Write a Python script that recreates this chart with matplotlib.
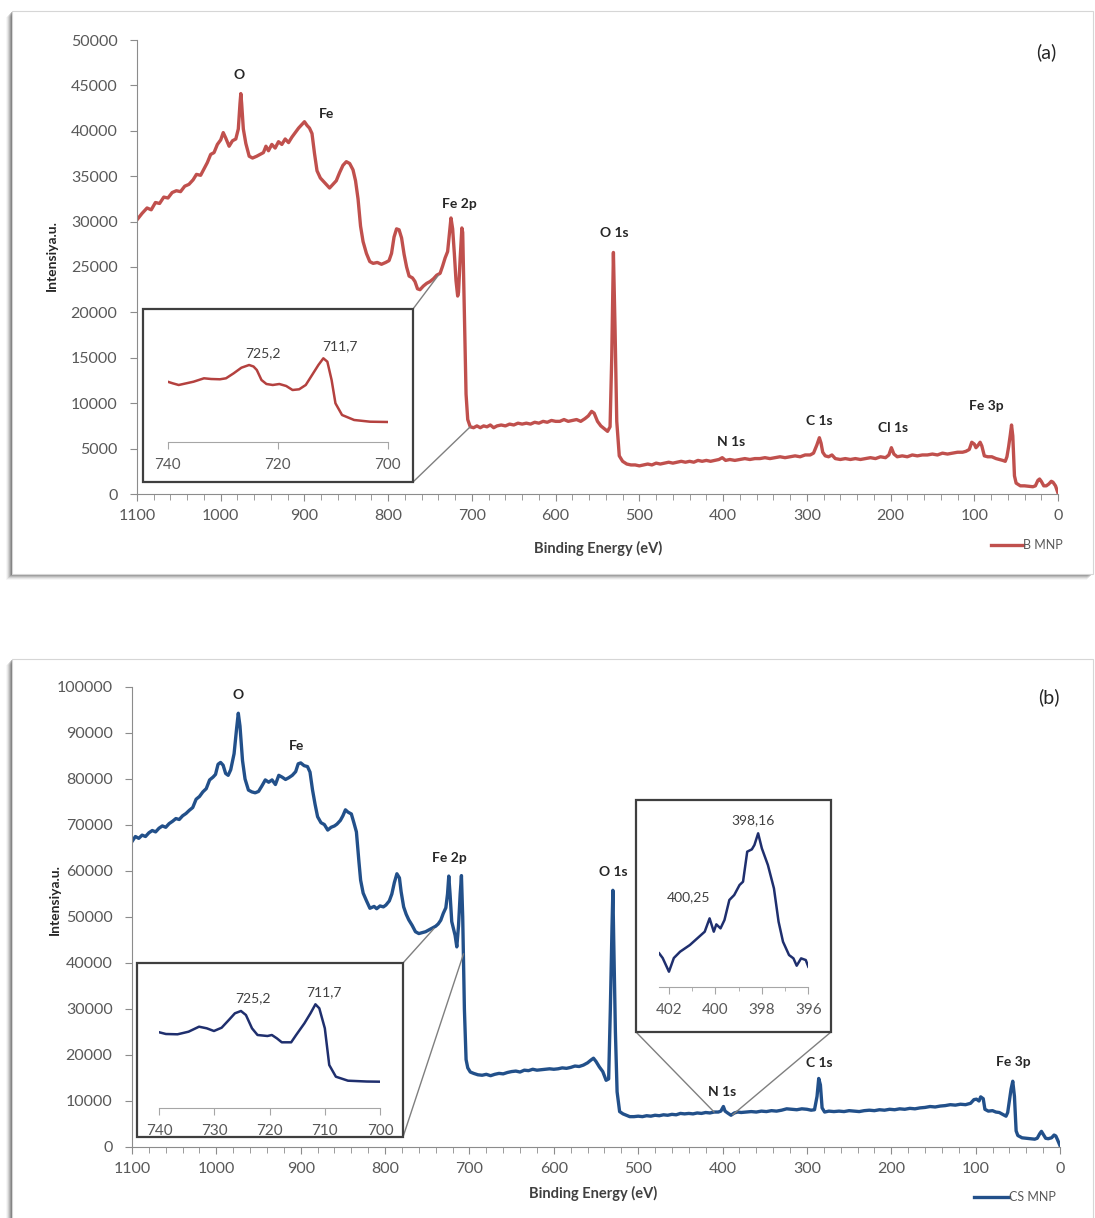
import numpy as np
import matplotlib.pyplot as plt
from matplotlib.patches import Rectangle, ConnectionPatch

W, H = 1095, 1218
plt.rcParams['font.family'] = ['Lato', 'DejaVu Sans']

# survey spectrum, B MNP
be_a = [1100, 1094, 1088, 1083, 1078, 1073, 1068, 1063, 1058, 1053, 1048, 1043, 1038, 1033,
        1029, 1024, 1020, 1016, 1012, 1008, 1004, 1000, 997, 994, 990, 986, 982, 979, 977,
        976, 975, 973, 970, 966, 962, 957, 953, 949, 946, 943, 939, 935, 931, 927, 923, 919,
        915, 911, 907, 903, 900, 897, 894, 891, 888, 885, 881, 877, 873, 870, 866, 862, 858,
        854, 850, 846, 842, 839, 836, 833, 830, 826, 822, 818, 813, 808, 803, 799, 796, 793,
        790, 787, 784, 781, 778, 775, 771, 768, 765, 762, 758, 754, 750, 746, 742, 738, 735,
        732, 729, 727, 725, 723, 721, 719, 717, 716, 714, 712, 711, 709, 707, 705, 702, 698,
        694, 690, 686, 682, 678, 674, 670, 665, 660, 655, 650, 645, 640, 635, 630, 625, 620,
        615, 610, 605, 600, 595, 590, 585, 580, 575, 570, 565, 561, 557, 554, 550, 546, 542,
        538, 535, 533, 531, 529, 527, 524, 520, 515, 510, 505, 500, 495, 490, 485, 480, 475,
        470, 465, 460, 455, 450, 445, 440, 435, 430, 425, 420, 415, 410, 405, 401, 397, 392,
        386, 380, 374, 368, 362, 356, 350, 344, 338, 332, 326, 320, 314, 308, 302, 296, 292,
        288, 285, 283, 281, 278, 274, 270, 266, 260, 254, 248, 242, 236, 230, 224, 218, 212,
        206, 202, 199, 196, 192, 186, 180, 174, 168, 162, 156, 150, 144, 138, 132, 126, 120,
        114, 110, 106, 103, 100, 98, 96, 93, 91, 88, 84, 79, 74, 70, 66, 63, 61, 59, 57, 55.5,
        54, 52, 50, 45, 40, 35, 30, 27, 24, 22, 20, 17, 14, 11, 8, 6, 3, 0]
cnt_a = [30200, 30900, 31500, 31300, 32100, 32000, 32700, 32600, 33200, 33400, 33300, 33900,
         34100, 34600, 35200, 35100, 35800, 36500, 37400, 37600, 38500, 39000, 39800, 39200,
         38300, 38900, 39100, 40200, 43000, 44100, 43000, 40200, 38600, 37200, 37000, 37200,
         37400, 37600, 38300, 37800, 38500, 38100, 38800, 38500, 39100, 38700, 39300, 39800,
         40300, 40700, 41000, 40600, 40300, 39700, 37500, 35600, 34800, 34400, 34000, 33700,
         34100, 34500, 35400, 36200, 36600, 36400, 35700, 34500, 32500, 29500, 27800, 26500,
         25600, 25400, 25500, 25300, 25500, 25700, 26500, 28300, 29200, 29100, 28200, 26400,
         25000, 24000, 23800, 23400, 22600, 22500, 22900, 23200, 23400, 23700, 24100, 24300,
         25100, 26000, 26700, 28500, 30400, 29200, 26500, 23500, 21800, 22200, 26000, 29300,
         28800, 20000, 11000, 8200, 7400, 7300, 7500, 7300, 7500, 7400, 7600, 7300, 7500, 7600,
         7500, 7700, 7600, 7800, 7700, 7800, 7700, 7900, 7800, 8000, 7900, 8100, 8000, 8000,
         8200, 8000, 8100, 8200, 8000, 8300, 8600, 9100, 8900, 8000, 7500, 7200, 6900, 7400,
         15000, 26600, 18000, 8000, 4200, 3600, 3300, 3200, 3200, 3100, 3200, 3300, 3200, 3400,
         3300, 3400, 3500, 3400, 3500, 3600, 3500, 3600, 3500, 3700, 3600, 3700, 3600, 3700,
         3800, 4000, 3700, 3800, 3700, 3800, 3900, 3800, 3900, 3900, 4000, 3900, 4000, 4100,
         4000, 4100, 4200, 4100, 4300, 4300, 4500, 5400, 6200, 5600, 4600, 4200, 4100, 4300,
         3900, 3800, 3900, 3800, 3900, 3800, 3900, 4000, 3900, 4100, 4000, 4300, 5100, 4400,
         4100, 4200, 4100, 4300, 4200, 4300, 4300, 4400, 4300, 4500, 4400, 4500, 4600, 4600,
         4700, 4900, 5700, 5500, 5100, 5300, 5700, 5300, 4200, 4100, 4100, 3900, 3800, 3700,
         3600, 4100, 5200, 6500, 7600, 6400, 2000, 1200, 900, 900, 850, 800, 900, 1500, 1650,
         1400, 900, 900, 1100, 1400, 1300, 900, 100]

# survey spectrum, CS MNP
be_b = [1100, 1096, 1092, 1088, 1084, 1080, 1076, 1072, 1068, 1064, 1060, 1056, 1052, 1048,
        1044, 1040, 1036, 1032, 1028, 1024, 1020, 1016, 1012, 1008, 1004, 1001, 998, 995, 992,
        989, 986, 983, 979, 976, 974, 972, 969, 966, 962, 958, 954, 950, 946, 942, 938, 934,
        930, 926, 922, 918, 914, 910, 906, 903, 900, 896, 892, 889, 886, 883, 880, 876, 872,
        868, 864, 860, 857, 853, 850, 847, 844, 840, 837, 834, 831, 829, 826, 822, 818, 813,
        810, 806, 802, 799, 795, 792, 789, 786, 783, 781, 778, 775, 772, 768, 764, 760, 756,
        752, 748, 744, 740, 737, 734, 731, 728, 726, 724.5, 723, 721, 719, 717, 715, 713, 711,
        709.5, 708, 706, 704, 702, 699, 695, 690, 685, 680, 675, 670, 665, 660, 655, 650, 645,
        640, 635, 630, 625, 620, 615, 610, 605, 600, 595, 590, 585, 580, 575, 570, 565, 560,
        556, 553, 550, 546, 542, 538, 535, 533, 531, 530, 529, 527, 525, 522, 518, 514, 510,
        505, 500, 495, 490, 485, 480, 475, 470, 465, 460, 455, 450, 445, 440, 435, 430, 425,
        420, 415, 410, 405, 402, 399, 397, 394, 390, 386, 382, 378, 372, 366, 360, 354, 348,
        342, 336, 330, 324, 318, 312, 306, 300, 295, 291, 288, 286, 284, 282, 279, 274, 268,
        262, 256, 250, 244, 238, 232, 226, 220, 214, 208, 202, 196, 190, 184, 178, 172, 166,
        160, 154, 148, 142, 136, 130, 124, 118, 112, 106, 102, 99, 96, 94, 91, 89, 85, 80, 76,
        72, 68, 64, 62, 60, 58, 56, 54, 52, 50, 45, 40, 35, 30, 27, 24, 22, 20, 17, 14, 10, 7,
        5, 3, 0]
cnt_b = [66400, 67500, 67100, 67800, 67500, 68300, 68800, 68500, 69300, 69800, 69500, 70300,
         70800, 71400, 71200, 72000, 72500, 73200, 73800, 75600, 76200, 77200, 77900, 79800,
         80400, 81000, 83200, 83600, 83000, 81200, 80800, 82000, 85500, 91000, 94300, 91500,
         84000, 80000, 77600, 77200, 77000, 77300, 78500, 79800, 79300, 79800, 78800, 80800,
         80400, 79900, 80300, 80800, 81600, 83300, 83500, 82900, 82700, 81500, 77600, 74500,
         71800, 70500, 70100, 68900, 69500, 69800, 70200, 71000, 72000, 73300, 72800, 72400,
         70500, 68500, 62000, 58000, 55200, 53500, 51900, 52300, 51800, 52400, 52200, 52600,
         53500, 55000, 57500, 59400, 58500, 55500, 52200, 50600, 49400, 48200, 46800, 46400,
         46600, 46800, 47200, 47600, 48000, 48500, 49300, 50800, 52000, 55000, 58900, 55000,
         49000, 47500, 46000, 43500, 48000, 55000, 59000, 50000, 30000, 19000, 17200, 16300,
         16000, 15700, 15600, 15800, 15500, 15800, 16000, 15900, 16200, 16400, 16500, 16300,
         16700, 16600, 16900, 16700, 16800, 16900, 17000, 16900, 17000, 17200, 17100, 17300,
         17600, 17500, 17800, 18300, 18900, 19300, 18600, 17400, 16400, 14500, 14800, 30000,
         48000, 55800, 45000, 25000, 12000, 7700, 7200, 6900, 6600, 6600, 6700, 6600, 6800,
         6700, 6900, 6800, 7000, 6900, 7100, 7000, 7300, 7200, 7300, 7200, 7400, 7300, 7500,
         7400, 7600, 7600, 7800, 8800, 7800, 7400, 6900, 7400, 7600, 7500, 7600, 7700, 7600,
         7800, 7700, 7900, 7800, 8000, 8300, 8200, 8100, 8300, 8200, 8000, 8100, 11000, 14900,
         13500, 8500, 7600, 7800, 7700, 7800, 7700, 7900, 7800, 7700, 7900, 8000, 7900, 8100,
         8000, 8200, 8100, 8300, 8200, 8400, 8300, 8500, 8600, 8800, 8700, 8900, 9000, 9200,
         9100, 9300, 9200, 9500, 10300, 10400, 10000, 10900, 10500, 8200, 7800, 7900, 7600,
         7500, 7100, 6700, 7500, 10000, 12600, 14300, 11000, 3500, 2500, 2000, 1900, 1800,
         1700, 1900, 2900, 3400, 2800, 1900, 1800, 2000, 2600, 2400, 1600, 300]

# Fe 2p detail scans
fe2p_be_a = [740, 739.1, 738.0, 736.6, 735.3, 733.4, 732.1, 730.5, 729.4, 728.0, 726.6, 725.2,
             724.4, 723.8, 722.95, 722.05, 720.9, 719.7, 718.45, 717.3, 716.1, 714.9, 713.75,
             712.6, 711.7, 710.97, 710.2, 709.5, 708.3, 706.1, 703.2, 700]
fe2p_cnt_a = [21000, 20460, 19880, 20460, 21000, 22160, 21920, 21820, 22160, 23860, 25760,
              26680, 26170, 24980, 21580, 20220, 19880, 20220, 19540, 18180, 18420, 19880,
              23280, 26680, 28960, 27800, 21580, 13660, 9680, 7980, 7400, 7300]
fe2p_be_b = [740, 738.8, 736.7, 734.7, 732.8, 731.4, 730.1, 728.7, 727.4, 726.3, 725.2, 724.3,
             723.2, 722.2, 720.4, 719.6, 718.7, 717.8, 716.1, 715.2, 713.7, 712.6, 711.7, 711.0,
             710.0, 709.2, 708.0, 705.8, 702.4, 700]
fe2p_cnt_b = [41860, 40910, 40740, 42200, 45000, 44100, 42590, 44440, 48750, 52500, 53790,
              51550, 44100, 40350, 39790, 40350, 38500, 36260, 36260, 40350, 46900, 52500,
              57540, 55300, 44100, 23550, 17000, 14760, 14300, 14200]
fe2p_peaks = [725.2, 711.7]

# N 1s detail scan, CS MNP
n1s_be = [402.42, 402.27, 402.0, 401.79, 401.52, 401.10, 400.78, 400.46, 400.25, 400.07,
          399.96, 399.78, 399.61, 399.40, 399.19, 398.96, 398.81, 398.63, 398.43, 398.32,
          398.16, 398.0, 397.74, 397.48, 397.28, 397.09, 396.83, 396.64, 396.50, 396.31,
          396.11, 396.0]
n1s_cnt = [7200, 7130, 6925, 7130, 7225, 7325, 7425, 7525, 7725, 7525, 7635, 7575, 7700, 8000,
           8075, 8225, 8275, 8725, 8760, 8825, 9000, 8775, 8525, 8175, 7675, 7375, 7175, 7125,
           7015, 7125, 7100, 7000]
n1s_peaks = [400.25, 398.16]

labels_a = ['O', 'Fe', 'Fe 2p', 'O 1s', 'N 1s', 'C 1s', 'Cl 1s', 'Fe 3p']
labels_b = ['O', 'Fe', 'Fe 2p', 'O 1s', 'N 1s', 'C 1s', 'Fe 3p']

RED = '#c0504d'
BLUE = '#22508a'
NAVY = '#1f2f6e'
GREY = '#8c8c8c'
TXT = '#595959'


def rect(x0, y0, x1, y1):
    # pixel box (top-left origin) -> figure fraction [l, b, w, h]
    return [x0 / W, 1 - y1 / H, (x1 - x0) / W, (y1 - y0) / H]


def fpt(x, y):
    return (x / W, 1 - y / H)


fig = plt.figure(figsize=(W / 100, H / 100), dpi=100)


def panel_frame(x0, y0, x1, y1):
    # soft drop shadow to the lower left, then the white card
    for k, a in zip([6, 5, 4, 3, 2, 1], [0.05, 0.09, 0.14, 0.2, 0.28, 0.4]):
        fig.add_artist(Rectangle(fpt(x0 - k, y1 + k), (x1 - x0) / W, (y1 - y0) / H,
                                 transform=fig.transFigure, facecolor='#555555', alpha=a,
                                 edgecolor='none', zorder=-3))
    fig.add_artist(Rectangle(fpt(x0, y1), (x1 - x0) / W, (y1 - y0) / H,
                             transform=fig.transFigure, facecolor='white',
                             edgecolor='#d6d6d6', lw=0.8, zorder=-2))


def style_main(ax, ymax, ystep):
    ax.set_xlim(1100, 0)
    ax.set_ylim(0, ymax)
    ax.set_xticks(np.arange(0, 1101, 100))
    ax.set_xticks(np.arange(0, 1101, 20), minor=True)
    ax.set_yticks(np.arange(0, ymax + 1, ystep))
    for s in ['top', 'right']:
        ax.spines[s].set_visible(False)
    for s in ['left', 'bottom']:
        ax.spines[s].set_color(GREY)
    ax.tick_params(axis='both', which='both', direction='out', color=GREY,
                   labelcolor=TXT, labelsize=11.5)
    ax.tick_params(axis='x', which='major', length=5, pad=6)
    ax.tick_params(axis='x', which='minor', length=4)
    ax.tick_params(axis='y', length=5, pad=9)
    ax.patch.set_alpha(0)
    ax.set_xlabel('Binding Energy (eV)', fontsize=10.5, fontweight='bold', color='#404040')
    ax.set_ylabel('Intensiya.u.', fontsize=10, fontweight='bold', color='#262626')
    ax.xaxis.label.set_va('center')
    ax.yaxis.label.set_va('center')


def style_inset(ax, xlim, ylim, ticks, minor=None):
    ax.set_xlim(*xlim)
    ax.set_ylim(*ylim)
    ax.set_xticks(ticks)
    if minor is not None:
        ax.set_xticks(minor, minor=True)
    ax.set_yticks([])
    for s in ['top', 'right', 'left']:
        ax.spines[s].set_visible(False)
    ax.spines['bottom'].set_color('#a6a6a6')
    ax.tick_params(axis='x', which='both', direction='out', length=5, color='#a6a6a6',
                   labelcolor=TXT, labelsize=11, pad=7)
    ax.tick_params(axis='x', which='minor', length=3)
    ax.patch.set_alpha(0)


def inset_box(x0, y0, x1, y1):
    fig.add_artist(Rectangle(fpt(x0, y1), (x1 - x0) / W, (y1 - y0) / H,
                             transform=fig.transFigure, facecolor='white',
                             edgecolor='#3f3f3f', lw=1.6, zorder=2))


def connector(xy_px, ax, xy_data):
    fig.add_artist(ConnectionPatch(xyA=fpt(*xy_px), coordsA=fig.transFigure,
                                   xyB=xy_data, coordsB=ax.transData,
                                   color='#7f7f7f', lw=1.0, zorder=1.5))


def peak_note(ax, be, be_list, cnt_list, dx, dy):
    y = cnt_list[be_list.index(be)]
    ax.annotate(f'{be}'.replace('.', ','), xy=(be, y), xytext=(dx, dy),
                textcoords='offset points', ha='center', va='center',
                fontsize=10, color='#404040')


# ---------- (a) B MNP ----------
panel_frame(12, 11, 1093, 574)
ax_a = fig.add_axes(rect(137, 40, 1058, 494))
ax_a.plot(be_a, cnt_a, color=RED, lw=2.4, label='B MNP')
style_main(ax_a, 50000, 5000)
ax_a.xaxis.set_label_coords(0.5005, -0.121)
ax_a.yaxis.set_label_coords(-0.0923, 0.525)

pos_a = [(978, 46150), (873, 41850), (715.4, 31940), (530.3, 28740), (390.6, 5730),
         (285.5, 8040), (197.1, 7270), (86, 9690)]
for name, (x, y) in zip(labels_a, pos_a):
    ax_a.text(x, y, name, ha='center', va='center', fontsize=10, fontweight='bold',
              color='#262626')
fig.text(*fpt(1046, 52), '(a)', ha='center', va='center', fontsize=14, color='#262626')
ax_a.legend(loc='center right', bbox_to_anchor=fpt(1074, 545), bbox_transform=fig.transFigure,
            frameon=False, handlelength=2.6, handletextpad=0.0, fontsize=9,
            labelcolor=TXT)

inset_box(143, 309, 413, 482)
ins_a = fig.add_axes(rect(167.7, 320, 387.7, 441.7), zorder=3)
ins_a.plot(fe2p_be_a, fe2p_cnt_a, color='#b4413f', lw=1.8)
style_inset(ins_a, (740, 700), (600, 41980), [740, 720, 700])
peak_note(ins_a, fe2p_peaks[0], fe2p_be_a, fe2p_cnt_a, 10, 8.5)
peak_note(ins_a, fe2p_peaks[1], fe2p_be_a, fe2p_cnt_a, 12, 8.5)
connector((413, 309), ax_a, (740, 24100))
connector((413, 482), ax_a, (702, 7400))

# ---------- (b) CS MNP ----------
panel_frame(12, 659, 1093, 1240)
ax_b = fig.add_axes(rect(132, 687, 1060, 1147))
ax_b.plot(be_b, cnt_b, color=BLUE, lw=2.4, label='CS MNP')
style_main(ax_b, 100000, 10000)
ax_b.xaxis.set_label_coords(0.4968, -0.102)
ax_b.yaxis.set_label_coords(-0.083, 0.537)

pos_b = [(974.3, 98260), (904.4, 87170), (724.2, 62830), (529.8, 59780), (400.6, 11960),
         (285.6, 18260), (55.7, 18480)]
for name, (x, y) in zip(labels_b, pos_b):
    ax_b.text(x, y, name, ha='center', va='center', fontsize=10, fontweight='bold',
              color='#262626')
fig.text(*fpt(1049, 697), '(b)', ha='center', va='center', fontsize=14, color='#262626')
ax_b.legend(loc='center right', bbox_to_anchor=fpt(1067, 1197), bbox_transform=fig.transFigure,
            frameon=False, handlelength=2.8, handletextpad=0.0, fontsize=9,
            labelcolor=TXT)

inset_box(137, 963, 403, 1137)
ins_b = fig.add_axes(rect(159.3, 970, 380, 1107.7), zorder=3)
ins_b.plot(fe2p_be_b, fe2p_cnt_b, color=NAVY, lw=1.8)
style_inset(ins_b, (740, 700), (-360, 76750), [740, 730, 720, 710, 700])
peak_note(ins_b, fe2p_peaks[0], fe2p_be_b, fe2p_cnt_b, 9, 9)
peak_note(ins_b, fe2p_peaks[1], fe2p_be_b, fe2p_cnt_b, 6, 9)
connector((403, 963), ax_b, (742, 47500))
connector((403, 1137), ax_b, (707, 42000))

inset_box(636, 800, 831, 1032)
ins_n = fig.add_axes(rect(659.2, 815, 808.3, 986.7), zorder=3)
ins_n.plot(n1s_be, n1s_cnt, color=NAVY, lw=1.8)
style_inset(ins_n, (402.42, 396), (6700, 9275), [402, 400, 398, 396], [401, 399, 397])
peak_note(ins_n, n1s_peaks[0], n1s_be, n1s_cnt, -15, 15.5)
peak_note(ins_n, n1s_peaks[1], n1s_be, n1s_cnt, -4, 9.5)
connector((636, 1032), ax_b, (410, 7600))
connector((831, 1032), ax_b, (388, 7000))

fig.savefig('out.png', dpi=100, facecolor='white')
